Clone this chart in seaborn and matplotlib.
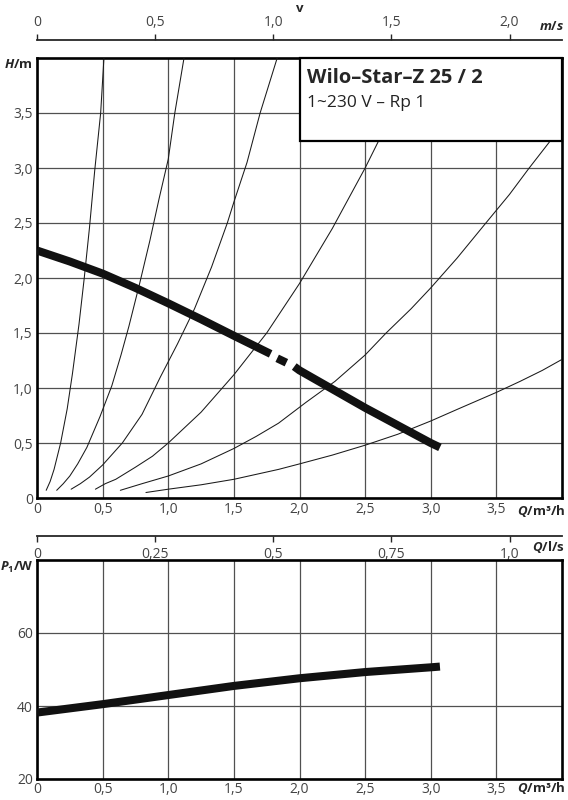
import numpy as np
import pandas as pd
import matplotlib
matplotlib.use("Agg")
import matplotlib.pyplot as plt
from matplotlib.patches import Rectangle
import seaborn as sns

# system (resistance) curves, Q in m3/h and H in m
sys1_q = [0.07, 0.10, 0.13, 0.18, 0.23, 0.27, 0.32, 0.36, 0.40, 0.44, 0.485, 0.51]
sys1_h = [0.07, 0.15, 0.26, 0.50, 0.81, 1.13, 1.58, 2.00, 2.46, 2.98, 3.50, 4.00]
sys2_q = [0.15, 0.20, 0.25, 0.31, 0.38, 0.48, 0.57, 0.64, 0.70, 0.78, 0.86, 0.93, 1.00, 1.05, 1.12]
sys2_h = [0.07, 0.13, 0.20, 0.31, 0.46, 0.74, 1.02, 1.30, 1.56, 1.94, 2.34, 2.72, 3.08, 3.50, 4.00]
sys3_q = [0.26, 0.33, 0.40, 0.50, 0.65, 0.80, 0.94, 1.07, 1.20, 1.33, 1.45, 1.50, 1.60, 1.70, 1.83]
sys3_h = [0.08, 0.13, 0.19, 0.30, 0.50, 0.76, 1.10, 1.40, 1.72, 2.10, 2.50, 2.69, 3.05, 3.50, 4.00]
sys4_q = [0.445, 0.52, 0.60, 0.75, 0.88, 1.00, 1.25, 1.50, 1.75, 2.00, 2.25, 2.50, 2.60, 2.75, 2.88]
sys4_h = [0.08, 0.13, 0.17, 0.28, 0.38, 0.50, 0.78, 1.12, 1.50, 1.95, 2.45, 3.00, 3.24, 3.62, 4.00]
sys5_q = [0.635, 0.80, 1.00, 1.25, 1.50, 1.67, 1.84, 2.05, 2.27, 2.50, 2.66, 2.85, 3.00, 3.20, 3.42, 3.60, 3.75, 3.90, 4.00]
sys5_h = [0.07, 0.13, 0.20, 0.31, 0.45, 0.56, 0.68, 0.87, 1.06, 1.30, 1.50, 1.72, 1.91, 2.18, 2.50, 2.76, 3.00, 3.23, 3.40]
sys6_q = [0.83, 1.00, 1.25, 1.50, 1.67, 1.84, 2.00, 2.25, 2.50, 2.75, 3.00, 3.21, 3.50, 3.68, 3.85, 4.00]
sys6_h = [0.05, 0.08, 0.12, 0.17, 0.215, 0.26, 0.31, 0.39, 0.48, 0.58, 0.70, 0.81, 0.96, 1.06, 1.16, 1.26]

# pump curve, drawn in three pieces (solid, short dash, solid)
pump_q = [0.0, 0.25, 0.5, 0.75, 1.0, 1.25, 1.5, 1.78, 1.83, 1.90, 1.96, 2.0, 2.25, 2.5, 2.75, 3.0, 3.07]
pump_h = [2.25, 2.15, 2.04, 1.91, 1.77, 1.625, 1.475, 1.31, 1.27, 1.23, 1.195, 1.16, 0.99, 0.82, 0.66, 0.50, 0.46]
pump_piece = [0, 0, 0, 0, 0, 0, 0, 0, 1, 1, 2, 2, 2, 2, 2, 2, 2]

# power input
power_q = [0.0, 0.5, 1.0, 1.5, 2.0, 2.5, 3.0, 3.07]
power_w = [38.2, 40.5, 43.0, 45.5, 47.6, 49.3, 50.6, 50.8]

q_ticks = [0, 0.5, 1.0, 1.5, 2.0, 2.5, 3.0, 3.5]
q_labels = ["0", "0,5", "1,0", "1,5", "2,0", "2,5", "3,0", "3,5"]
h_ticks = [0, 0.5, 1.0, 1.5, 2.0, 2.5, 3.0, 3.5]
h_labels = ["0", "0,5", "1,0", "1,5", "2,0", "2,5", "3,0", "3,5"]
v_ticks = [0, 0.5, 1.0, 1.5, 2.0]
v_labels = ["0", "0,5", "1,0", "1,5", "2,0"]
ls_ticks = [0, 0.25, 0.5, 0.75, 1.0]
ls_labels = ["0", "0,25", "0,5", "0,75", "1,0"]
p_ticks = [20, 40, 60]
p_labels = ["20", "40", "60"]

sns.set_style("white")
plt.rcParams["font.family"] = ["Open Sans", "DejaVu Sans"]
plt.rcParams["mathtext.fontset"] = "custom"
plt.rcParams["mathtext.it"] = "Open Sans:italic:bold"
plt.rcParams["mathtext.rm"] = "Open Sans:bold"
plt.rcParams["mathtext.bf"] = "Open Sans:bold"

W, H = 568, 800
fig = plt.figure(figsize=(W / 100, H / 100), dpi=100)

def rect(l, t, r, b):
    return [l / W, 1 - b / H, (r - l) / W, (b - t) / H]

ax = fig.add_axes(rect(37, 58, 562, 498))
ax2 = fig.add_axes(rect(37, 560, 562, 779))

grid_col = "#505050"
lab_col = "#444444"

sys_df = pd.concat([
    pd.DataFrame({"Q": q, "H": h, "curve": i})
    for i, (q, h) in enumerate([(sys1_q, sys1_h), (sys2_q, sys2_h), (sys3_q, sys3_h),
                                (sys4_q, sys4_h), (sys5_q, sys5_h), (sys6_q, sys6_h)])
], ignore_index=True)
sns.lineplot(data=sys_df, x="Q", y="H", units="curve", estimator=None, color="#1a1a1a",
             lw=0.75, ax=ax, zorder=3)

pump_df = pd.DataFrame({"Q": pump_q, "H": pump_h, "piece": pump_piece})
sns.lineplot(data=pump_df, x="Q", y="H", units="piece", estimator=None, color="#111111",
             lw=5.8, ax=ax, zorder=4, solid_capstyle="butt")

power_df = pd.DataFrame({"Q": power_q, "P": power_w})
sns.lineplot(data=power_df, x="Q", y="P", color="#111111", lw=5.8, ax=ax2, zorder=4,
             solid_capstyle="butt")

for a in (ax, ax2):
    a.set_xlim(0, 4)
    a.set_xticks(q_ticks)
    a.set_xticklabels(q_labels)
    a.set_xlabel("")
    a.set_ylabel("")
    a.grid(True, color=grid_col, lw=0.9)
    a.set_axisbelow(True)
    a.tick_params(length=0, labelsize=10, labelcolor=lab_col, pad=3)
    for s in a.spines.values():
        s.set_linewidth(1.9)
        s.set_color("black")
        s.set_visible(True)

ax.set_ylim(0, 4)
ax.set_yticks(h_ticks)
ax.set_yticklabels(h_labels)
ax2.set_ylim(20, 80)
ax2.set_yticks(p_ticks)
ax2.set_yticklabels(p_labels)
ax2.tick_params(axis="x", pad=2)

# title box
ax.add_patch(Rectangle((2.0, 3.25), 2.0, 0.75, facecolor="white", edgecolor="black",
                       lw=1.6, zorder=6, clip_on=False))
ax.text(2.06, 3.77, "Wilo\u2013Star\u2013Z 25 / 2", fontsize=14.5, fontweight="bold",
        va="baseline", ha="left", zorder=7)
ax.text(2.06, 3.555, "1~230 V \u2013 Rp 1", fontsize=12.5, va="baseline", ha="left",
        zorder=7, color="#222222")

# velocity scale on top
sec_v = ax.secondary_xaxis(1 + 18 / 440, functions=(lambda q: q / 1.8, lambda v: v * 1.8))
sec_v.set_xticks(v_ticks)
sec_v.set_xticklabels(v_labels)
sec_v.tick_params(direction="out", length=4, width=1.0, labelsize=10, labelcolor=lab_col, pad=3)
sec_v.spines["top"].set_linewidth(1.3)

# l/s scale under the top chart
sec_l = ax.secondary_xaxis(-38 / 440, functions=(lambda q: q / 3.6, lambda l: l * 3.6))
sec_l.set_xticks(ls_ticks)
sec_l.set_xticklabels(ls_labels)
sec_l.tick_params(direction="out", length=4, width=1.0, labelsize=10, labelcolor=lab_col, pad=4)
sec_l.spines["bottom"].set_linewidth(1.3)

def ftext(x, y, s, **kw):
    fig.text(x / W, 1 - y / H, s, va="center", fontsize=9.5, fontweight="bold", **kw)

ftext(300, 8, "v", ha="center")
ftext(564, 27, "$m/s$", ha="right")
ftext(33, 65, "$H$/m", ha="right")
ftext(565, 511, "$Q$/m\u00b3/h", ha="right")
ftext(565, 547, "$Q$/l/s", ha="right")
ftext(34, 567, "$P_1$/W", ha="right")
ftext(565, 788, "$Q$/m\u00b3/h", ha="right")

fig.savefig("out.png", dpi=100)
